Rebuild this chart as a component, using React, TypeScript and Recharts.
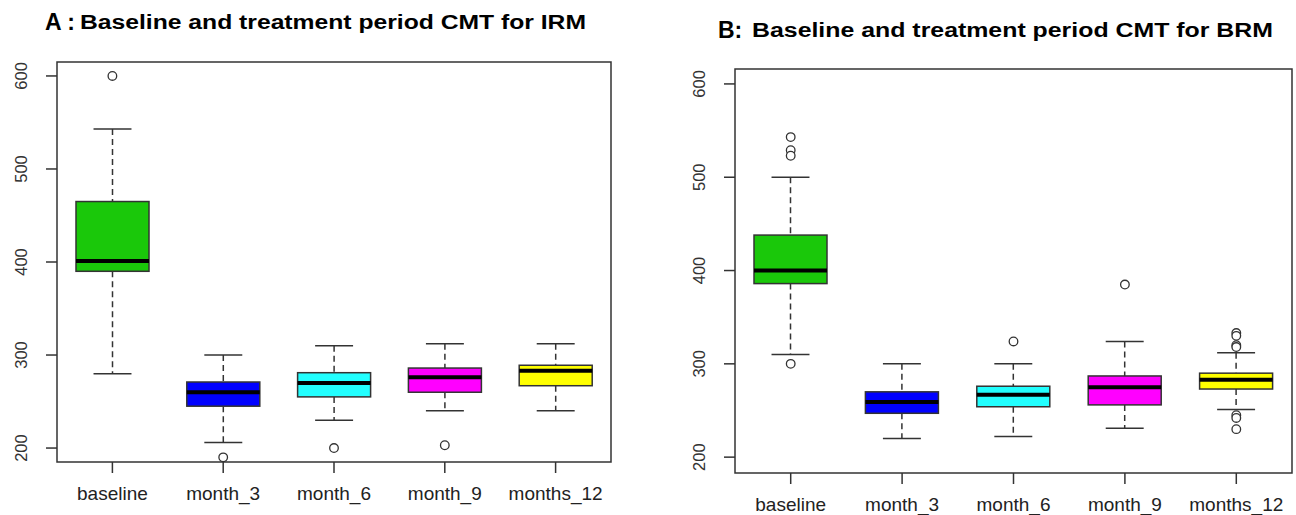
import React from 'react';
import { ComposedChart, Bar, Scatter, XAxis, YAxis, ReferenceArea } from 'recharts';

const GROUPS = ['baseline', 'month_3', 'month_6', 'month_9', 'months_12'];
const BOX_COLORS = ['#1ac80a', '#0000ff', '#22ffff', '#ff00ff', '#ffff00'];
const Y_TICKS = [200, 300, 400, 500, 600];

// A: IRM
const irmLow = [280, 206, 230, 240, 240];
const irmQ1 = [390, 245, 255, 260, 267];
const irmMedian = [401, 260, 270, 276, 283];
const irmQ3 = [465, 271, 281, 286, 289];
const irmHigh = [543, 300, 310, 312, 312];
const irmOutliers = [
  { name: 'baseline', value: 600 },
  { name: 'month_3', value: 190 },
  { name: 'month_6', value: 200 },
  { name: 'month_9', value: 203 },
];

// B: BRM
const brmLow = [310, 220, 222, 231, 251];
const brmQ1 = [386, 247, 254, 256, 273];
const brmMedian = [400, 259, 267, 275, 283];
const brmQ3 = [438, 270, 276, 287, 290];
const brmHigh = [500, 300, 300, 324, 312];
const brmOutliers = [
  { name: 'baseline', value: 543 },
  { name: 'baseline', value: 529 },
  { name: 'baseline', value: 523 },
  { name: 'baseline', value: 300 },
  { name: 'month_6', value: 324 },
  { name: 'month_9', value: 385 },
  { name: 'months_12', value: 333 },
  { name: 'months_12', value: 330 },
  { name: 'months_12', value: 320 },
  { name: 'months_12', value: 318 },
  { name: 'months_12', value: 245 },
  { name: 'months_12', value: 242 },
  { name: 'months_12', value: 230 },
];

const buildRows = (low: number[], q1: number[], med: number[], q3: number[], high: number[]) =>
  GROUPS.map((name, i) => ({
    name,
    range: [low[i], high[i]],
    low: low[i],
    q1: q1[i],
    median: med[i],
    q3: q3[i],
    high: high[i],
    color: BOX_COLORS[i],
  }));

const irmRows = buildRows(irmLow, irmQ1, irmMedian, irmQ3, irmHigh);
const brmRows = buildRows(brmLow, brmQ1, brmMedian, brmQ3, brmHigh);

const INK = '#333';
const FONT = '"Liberation Sans", Arial, sans-serif';

// whole box + whiskers, mapped from the bar's [low, high] pixel span
const BoxShape = (props: any) => {
  const { x, y, width, height } = props;
  const p = props.payload ?? props;
  const { low, q1, median, q3, high, color } = p;
  const yHigh = y;
  const yLow = y + height;
  const py = (v: number) => yHigh + ((high - v) / (high - low)) * (yLow - yHigh);
  const cx = x + width / 2;
  const cap = width * 0.26;
  return (
    <g>
      <line x1={cx} x2={cx} y1={py(high)} y2={py(q3)} stroke={INK} strokeWidth={1.5} strokeDasharray="6 4" />
      <line x1={cx} x2={cx} y1={py(q1)} y2={py(low)} stroke={INK} strokeWidth={1.5} strokeDasharray="6 4" />
      <line x1={cx - cap} x2={cx + cap} y1={py(high)} y2={py(high)} stroke={INK} strokeWidth={1.5} />
      <line x1={cx - cap} x2={cx + cap} y1={py(low)} y2={py(low)} stroke={INK} strokeWidth={1.5} />
      <rect x={x} y={py(q3)} width={width} height={py(q1) - py(q3)} fill={color} stroke={INK} strokeWidth={1.5} />
      <line x1={x} x2={x + width} y1={py(median)} y2={py(median)} stroke="#000" strokeWidth={4} />
    </g>
  );
};

const OutlierDot = (props: any) => (
  <circle cx={props.cx} cy={props.cy} r={4.3} fill="#fff" stroke={INK} strokeWidth={1.3} />
);

const YTick = ({ x, y, payload }: any) => (
  <text
    x={x}
    y={y}
    transform={`rotate(-90, ${x}, ${y})`}
    textAnchor="middle"
    fontSize={16.5}
    fill={INK}
    fontFamily={FONT}
  >
    {payload.value}
  </text>
);

interface PanelProps {
  rows: any[];
  outliers: { name: string; value: number }[];
  width: number;
  top: number;
  right: number;
  yWidth: number;
  xHeight: number;
  domain: [number, number];
}

const BoxPanel: React.FC<PanelProps> = ({ rows, outliers, width, top, right, yWidth, xHeight, domain }) => (
  <ComposedChart width={width} height={515} data={rows} margin={{ top, right, left: 0, bottom: 0 }}>
    <XAxis
      dataKey="name"
      allowDuplicatedCategory={false}
      axisLine={false}
      tickLine={{ stroke: INK, strokeWidth: 1.5 }}
      tickSize={11}
      tickMargin={14}
      height={xHeight}
      interval={0}
      tick={{ fontSize: 19, fill: '#222', fontFamily: FONT }}
    />
    <YAxis
      type="number"
      domain={domain}
      ticks={Y_TICKS}
      width={yWidth}
      axisLine={false}
      tickLine={{ stroke: INK, strokeWidth: 1.5 }}
      tickSize={11}
      tickMargin={19}
      tick={<YTick />}
      allowDataOverflow
    />
    <ReferenceArea y1={domain[0]} y2={domain[1]} fill="none" stroke={INK} strokeWidth={1.5} ifOverflow="visible" />
    <Bar dataKey="range" barSize={73} shape={<BoxShape />} isAnimationActive={false} />
    <Scatter data={outliers} dataKey="value" shape={OutlierDot} isAnimationActive={false} />
  </ComposedChart>
);

export default function App() {
  return (
    <div style={{ position: 'absolute', left: 0, top: 0, width: 1296, height: 515, background: '#fff', fontFamily: FONT }}>
      <div style={{ position: 'absolute', left: 0, top: 0 }}>
        <BoxPanel rows={irmRows} outliers={irmOutliers} width={640} top={62} right={29} yWidth={57} xHeight={53} domain={[185, 615]} />
      </div>
      <div style={{ position: 'absolute', left: 648, top: 0 }}>
        <BoxPanel rows={brmRows} outliers={brmOutliers} width={648} top={69} right={4} yWidth={87} xHeight={42} domain={[183, 616]} />
      </div>
      <svg width={1296} height={50} style={{ position: 'absolute', left: 0, top: 0, pointerEvents: 'none' }}>
        <text x={45} y={30} fontSize={23} fontWeight="bold" fontFamily={FONT}>A :</text>
        <text x={80} y={29} fontSize={20} fontWeight="bold" fontFamily={FONT} textLength={506} lengthAdjust="spacingAndGlyphs">
          Baseline and treatment period CMT for IRM
        </text>
        <text x={718} y={38} fontSize={23} fontWeight="bold" fontFamily={FONT}>B:</text>
        <text x={752} y={37} fontSize={20} fontWeight="bold" fontFamily={FONT} textLength={521} lengthAdjust="spacingAndGlyphs">
          Baseline and treatment period CMT for BRM
        </text>
      </svg>
    </div>
  );
}
